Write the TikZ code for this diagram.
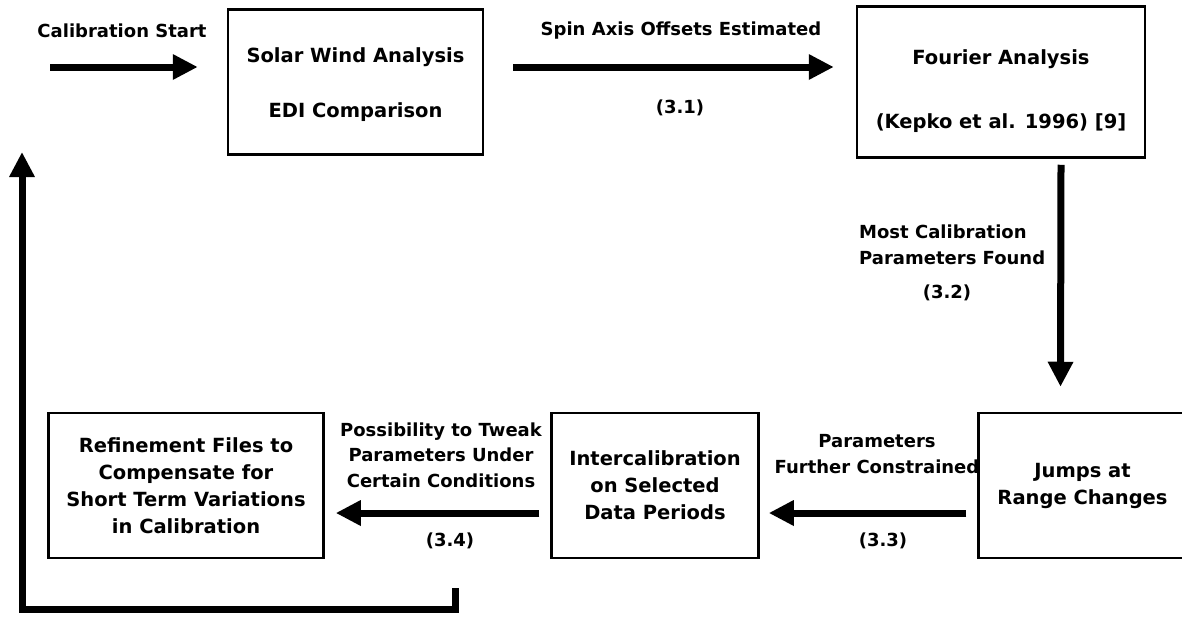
\documentclass[tikz,border=0pt]{standalone}
\usepackage{fontspec}
\setmainfont{DejaVu Sans}
\usetikzlibrary{positioning,arrows.meta}

\begin{document}
\begin{tikzpicture}[x=1pt,y=-1pt,node distance=100pt,on grid,
		font=\bfseries\fontsize{19.5}{27}\selectfont,
		box/.style={draw,line width=2.5pt,align=center,inner sep=0pt,minimum height=145pt},
		flow/.style={line width=7pt,-{Triangle[width=24pt,length=25pt]}},
		lbl/.style={align=center,inner sep=0pt,font=\bfseries\fontsize{18}{25.5}\selectfont}]
	\useasboundingbox (0,0) rectangle (1182,616);
	\node[box,minimum width=255pt] (solar) at (355.5,82) {\rule{0pt}{20pt}Solar Wind Analysis\\[28pt]EDI Comparison};
	\node[box,minimum width=288pt,minimum height=151pt] (fourier) [right=645.5pt of solar] {\rule{0pt}{34pt}Fourier Analysis\\[37pt](Kepko et al. 1996) [9]};
	\node[box,minimum width=208pt] (jumps) [below right=403.5pt and 81.5pt of fourier] {Jumps at\\Range Changes};
	\node[box,minimum width=207pt] (inter) [left=427.5pt of jumps] {Intercalibration\\on Selected\\Data Periods};
	\node[box,minimum width=275pt] (refine) [left=469pt of inter] {Refinement Files to\\Compensate for\\Short Term Variations\\in Calibration};
	% labels
	\node[lbl] (startlbl) at (122,31) {Calibration Start};
	\node[lbl] (spinlbl) at (681,31) {Spin Axis Offsets Estimated};
	\node[lbl] (spinnum) at (680,108) {(3.1)};
	\node[lbl,align=left,anchor=west] (mostlbl) at (859,245) {Most Calibration\\Parameters Found};
	\node[lbl] (mostnum) at (947,293) {(3.2)};
	\node[lbl] (paramlbl) at (877,454) {Parameters\\Further Constrained};
	\node[lbl] (paramnum) at (883,541) {(3.3)};
	\node[lbl] (tweaklbl) at (441,455) {Possibility to Tweak\\Parameters Under\\Certain Conditions};
	\node[lbl] (tweaknum) at (450,541) {(3.4)};
	% free ends
	\coordinate (start) at (50,67);
	\coordinate (loopstart) at (455,588);
	\coordinate (loopend) at (22,152);
	% connectors
	\draw[flow] (start) -- ([xshift=-29pt]solar.west |- start);
	\draw[flow] ([xshift=29pt]solar.east |- start) -- ([xshift=-22pt]fourier.west |- start);
	\draw[flow] ([xshift=60pt,yshift=-6pt]fourier.south) -- ([xshift=-22pt,yshift=25pt]jumps.north);
	\draw[flow] ([xshift=-11pt,yshift=-27.5pt]jumps.west) -- ([xshift=9pt,yshift=-27.5pt]inter.east);
	\draw[flow] ([xshift=-11pt,yshift=-27.5pt]inter.west) -- ([xshift=11pt,yshift=-27.5pt]refine.east);
	\draw[flow] (loopstart) |- (22,609) -- (loopend);
\end{tikzpicture}
\end{document}
